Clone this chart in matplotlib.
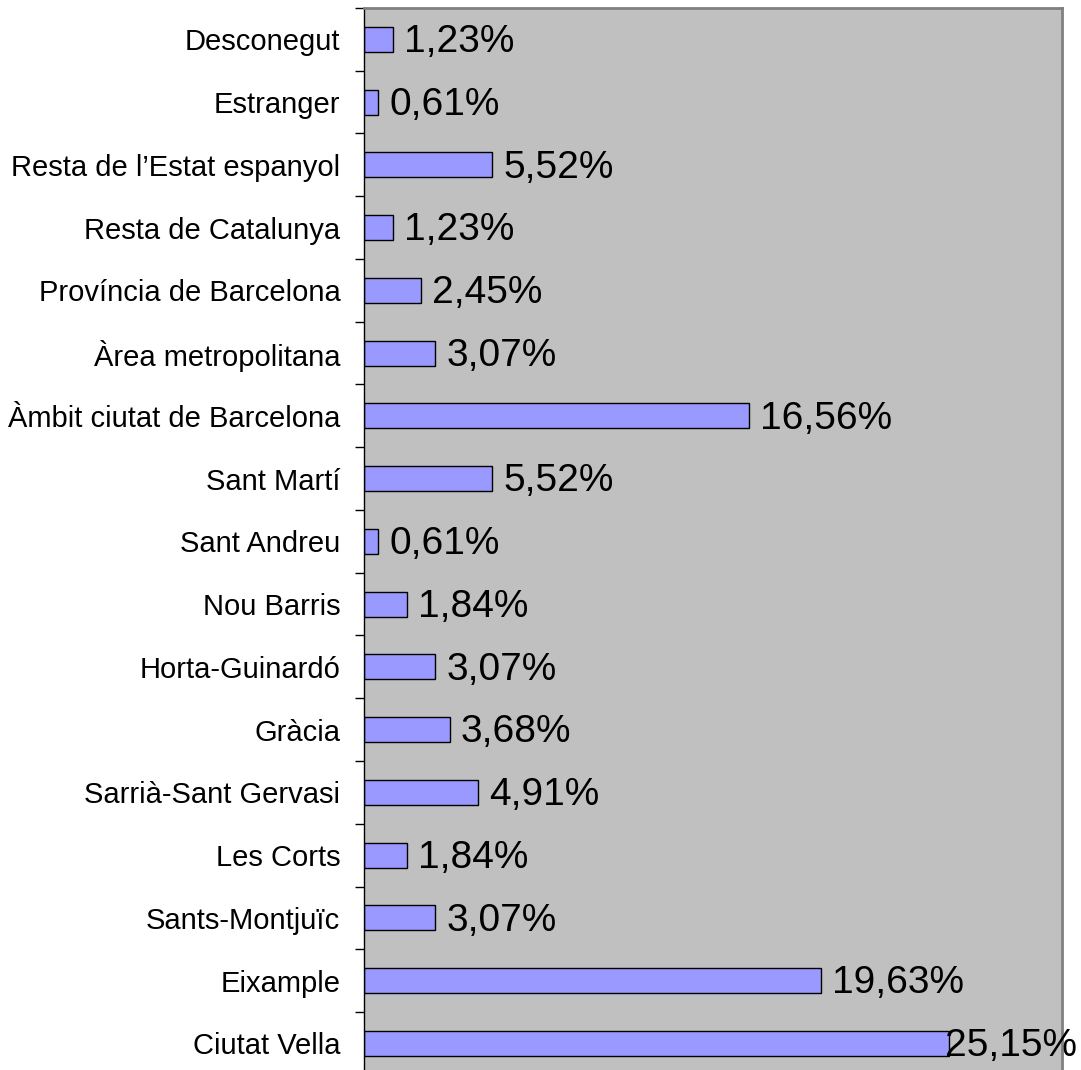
import matplotlib
matplotlib.use("Agg")
import matplotlib.pyplot as plt
import numpy as np

plt.rcParams["font.family"] = ["Liberation Sans", "DejaVu Sans"]

# categories bottom -> top
categories = [
    "Ciutat Vella", "Eixample", "Sants-Montjuïc", "Les Corts",
    "Sarrià-Sant Gervasi", "Gràcia", "Horta-Guinardó", "Nou Barris",
    "Sant Andreu", "Sant Martí", "Àmbit ciutat de Barcelona",
    "Àrea metropolitana", "Província de Barcelona", "Resta de Catalunya",
    "Resta de l\u2019Estat espanyol", "Estranger", "Desconegut",
]
values = [25.15, 19.63, 3.07, 1.84, 4.91, 3.68, 3.07, 1.84,
          0.61, 5.52, 16.56, 3.07, 2.45, 1.23, 5.52, 0.61, 1.23]
value_labels = [f"{v:.2f}%".replace(".", ",") for v in values]

fig = plt.figure(figsize=(10.81, 10.70), dpi=100)
ax = fig.add_axes([364 / 1081, 1 - 1074.75 / 1070, (1062 - 364) / 1081, (1074.75 - 8) / 1070])
ax.set_facecolor("#C0C0C0")

y = np.arange(len(categories))
ax.barh(y, values, height=0.4, color="#9999FF", edgecolor="black", linewidth=1.0, zorder=2)

ax.set_xlim(0, 30)
ax.set_ylim(-0.5, len(categories) - 0.5)

# value labels (the widest one is pulled back so it fits the chart)
for i, (v, lab) in enumerate(zip(values, value_labels)):
    dx = -3 if v > 24 else 8
    ax.annotate(lab, xy=(v, i), xytext=(dx, -2), textcoords="offset points",
                ha="left", va="center", fontsize=28, annotation_clip=False, zorder=3)

# category labels, ticks at category boundaries
ax.set_yticks(y)
ax.set_yticklabels(categories, fontsize=21)
ax.tick_params(axis="y", which="major", length=0, pad=17)
ax.set_yticks(np.arange(-0.5, len(categories)), minor=True)
ax.tick_params(axis="y", which="minor", length=6.5, width=1, color="black")
ax.set_xticks([])

ax.spines["left"].set_color("black")
ax.spines["left"].set_linewidth(1.0)
ax.spines["bottom"].set_visible(False)
ax.spines["top"].set_color("#808080")
ax.spines["top"].set_linewidth(2)
ax.spines["right"].set_color("#808080")
ax.spines["right"].set_linewidth(2)

fig.savefig("out.png", dpi=100, facecolor="white")
